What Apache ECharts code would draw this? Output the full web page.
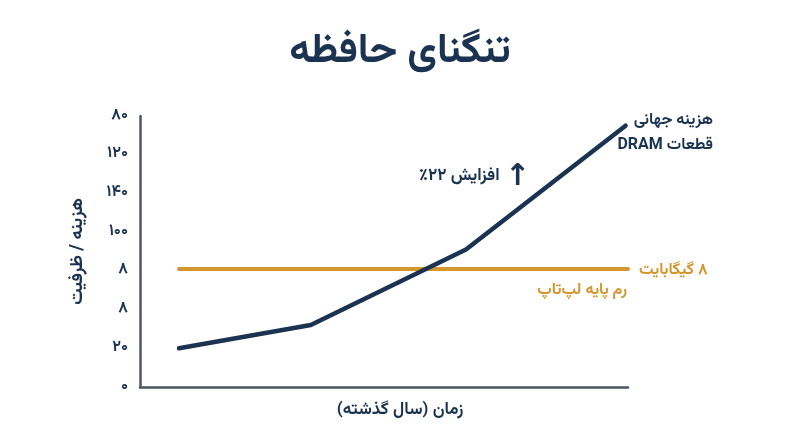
<!DOCTYPE html>
<html dir="rtl">
<head>
<meta charset="utf-8">
<script src="https://cdn.jsdelivr.net/npm/echarts@6/dist/echarts.min.js"></script>
<style>
  html, body { margin: 0; padding: 0; background: #fff; }
  #main { width: 800px; height: 447px; direction: rtl; }
</style>
</head>
<body>
<div id="main"></div>
<script>
// برچسب‌های محور عمودی (از پایین به بالا)
const yTickLabels = ['۰', '۲۰', '۸', '۸', '۱۰۰', '۱۴۰', '۱۲۰', '۸۰'];
// هزینه جهانی قطعات DRAM
const dramX = [8, 35, 66.8, 99.5];
const dramY = [1.0, 1.6, 3.55, 6.75];
// رم پایه لپ‌تاپ
const ramX = [8, 100];
const ramY = [3.05, 3.05];

const navy = '#1b3350';
const gold = '#d4962f';
const font = 'Vazirmatn, "DejaVu Sans", sans-serif';

const myChart = echarts.init(document.getElementById('main'));

myChart.setOption({
  backgroundColor: '#fff',
  animation: false,
  title: {
    text: 'تنگنای حافظه',
    left: 'center',
    top: 30,
    textStyle: { fontFamily: font, fontSize: 41, fontWeight: 'bold', color: navy }
  },
  grid: { left: 140, right: 172, top: 116, bottom: 60 },
  xAxis: {
    type: 'value',
    min: 0,
    max: 100,
    name: 'زمان (سال گذشته)',
    nameLocation: 'middle',
    nameGap: 16,
    nameTextStyle: { fontFamily: font, fontSize: 17, fontWeight: 'bold', color: navy, padding: [0, 0, 0, 32] },
    axisLine: { show: true, lineStyle: { color: '#4b5763', width: 2.5 } },
    axisTick: { show: false },
    axisLabel: { show: false },
    splitLine: { show: false }
  },
  yAxis: {
    type: 'value',
    min: 0,
    max: 7,
    interval: 1,
    name: 'هزینه / ظرفیت',
    nameLocation: 'middle',
    nameGap: 52,
    nameRotate: 90,
    nameTextStyle: { fontFamily: font, fontSize: 18, fontWeight: 'bold', color: navy },
    axisLine: { show: true, lineStyle: { color: '#4b5763', width: 2.5 } },
    axisTick: { show: false },
    axisLabel: {
      margin: 12,
      fontFamily: font,
      fontSize: 16,
      fontWeight: 'bold',
      color: navy,
      formatter: v => yTickLabels[v]
    },
    splitLine: { show: false }
  },
  series: [
    {
      name: 'رم پایه لپ‌تاپ',
      type: 'line',
      data: ramX.map((x, i) => [x, ramY[i]]),
      symbol: 'none',
      lineStyle: { color: gold, width: 4, cap: 'round' }
    },
    {
      name: 'هزینه جهانی قطعات DRAM',
      type: 'line',
      data: dramX.map((x, i) => [x, dramY[i]]),
      symbol: 'none',
      lineStyle: { color: navy, width: 4.5, cap: 'round', join: 'round' }
    }
  ],
  graphic: [
    {
      type: 'text', right: 87, top: 109,
      style: { text: 'هزینه جهانی\nقطعات DRAM', fill: navy, font: 'bold 16px ' + font, textAlign: 'right', lineHeight: 25 }
    },
    {
      type: 'text', left: 419, top: 169,
      style: { text: 'افزایش ۲۲٪', fill: navy, font: 'bold 17px ' + font }
    },
    {
      type: 'text', left: 505, top: 162,
      style: { text: '↑', fill: navy, font: 'bold 30px "DejaVu Sans"' }
    },
    {
      type: 'text', left: 639, top: 263,
      style: { text: '۸ گیگابایت', fill: gold, font: 'bold 16px ' + font }
    },
    {
      type: 'text', right: 173, top: 283,
      style: { text: 'رم پایه لپ‌تاپ', fill: gold, font: 'bold 16px ' + font, textAlign: 'right' }
    }
  ]
});
</script>
</body>
</html>
